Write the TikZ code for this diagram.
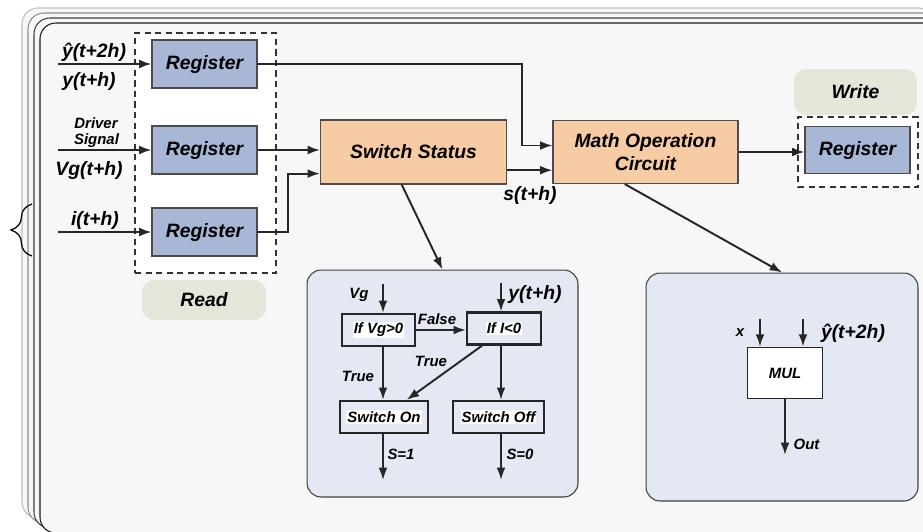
\documentclass[tikz,border=0pt]{standalone}
\usepackage{fontspec}
\setmainfont{Liberation Sans}
\usetikzlibrary{arrows.meta,positioning,decorations.pathreplacing}
\definecolor{regblue}{HTML}{A7B7D5}
\definecolor{orangebox}{HTML}{F7CCA4}
\definecolor{panelbg}{HTML}{E3E8F2}
\definecolor{tagbg}{HTML}{E4E6DA}
\definecolor{framebg}{HTML}{F7F7F7}
\newcommand{\wbg}[1]{{\setlength{\fboxsep}{0.6pt}\colorbox{white}{#1}}}
\tikzset{%
	>={Latex[width=5pt,length=7pt]},
	% Specifications for style of nodes:
	base/.style = {rectangle, draw=black!70, line width=0.6pt,
		text centered, font=\fontsize{11}{13.5}\selectfont\bfseries\itshape},
	register/.style = {base, fill=regblue, minimum width=2.1cm, minimum height=0.96cm},
	status/.style = {base, fill=orangebox, minimum width=3.72cm, minimum height=1.28cm},
	panel/.style = {rectangle, rounded corners=8pt, draw=black!75, line width=0.6pt, fill=panelbg},
	flow/.style = {rectangle, draw=black!85, line width=1.3pt, fill=panelbg,
		minimum height=0.64cm, inner sep=1pt, font=\fontsize{8.5}{10}\selectfont\bfseries\itshape},
	tag/.style = {rectangle, rounded corners=7pt, fill=tagbg,
		font=\fontsize{11}{13.5}\selectfont\bfseries\itshape},
	dbox/.style = {rectangle, draw=black!80, fill=white, dash pattern=on 3.5pt off 2.5pt, line width=0.6pt},
	lab/.style = {inner sep=0pt, font=\fontsize{11}{13}\selectfont\bfseries\itshape},
	slab/.style = {inner sep=0pt, font=\fontsize{8.5}{10}\selectfont\bfseries\itshape},
	wire/.style = {->, line width=1.1pt, draw=black!85}
}
\begin{document}
\begin{tikzpicture}[x=0.02cm, y=-0.02cm, align=center]
	\useasboundingbox (0,0) rectangle (923,531);
	\clip (0,0) rectangle (923,531);
	% stacked frames
	\foreach \k/\c in {0/black!25,1/black!45,2/black!75,3/black!90}
		\draw[draw=\c, fill=framebg, rounded corners=9pt, line width=0.6pt]
			(22+6*\k,8+5*\k) rectangle ++(912,510);
	\draw[decorate, decoration={brace, amplitude=12pt}, line width=0.7pt] (32,256) -- (32,204);

	% Specification of nodes (position, etc.)
	\node (rdbox)  [dbox, minimum width=2.82cm, minimum height=4.8cm] at (205.5,153) {};
	\node (reg1)   [register] at (204.5,64)  {Register};
	\node (reg2)   [register] at (204.5,150) {Register};
	\node (reg3)   [register] at (204.5,232) {Register};
	\node (rtag)   [tag, minimum width=2.48cm, minimum height=0.8cm] at (204,300) {Read};
	\node (sw)     [status] at (413.5,152) {Switch Status};
	\node (math)   [status, minimum width=3.7cm, minimum height=1.26cm] at (645.5,152) {Math Operation\\Circuit};
	\node (wdbox)  [dbox, minimum width=2.4cm, minimum height=1.4cm] at (858,152) {};
	\node (regw)   [register, minimum height=0.94cm] at (857.5,150) {Register};
	\node (wtag)   [tag, minimum width=2.46cm, minimum height=0.92cm] at (855.5,92) {Write};
	\node (pflow)  [panel, minimum width=5.42cm, minimum height=4.54cm] at (442.5,383.5) {};
	\node (pmul)   [panel, minimum width=5.44cm, minimum height=4.56cm] at (782,387) {};
	\node (ifvg)   [flow, minimum width=1.46cm] at (378.5,330) {\wbg{If Vg>0}};
	\node (ifi)    [flow, minimum width=1.48cm] at (504,328.5) {\wbg{If I<0}};
	\node (swon)   [flow, minimum width=1.76cm] at (384,417) {\wbg{Switch On}};
	\node (swoff)  [flow, minimum width=1.82cm] at (498.5,417) {\wbg{Switch Off}};
	\node (mul)    [flow, fill=white, line width=1pt, minimum width=1.5cm, minimum height=1.02cm] at (785,373) {MUL};

	\coordinate (in1) at (58,64);
	\coordinate (in2) at (58,150);
	\coordinate (in3) at (58,232);
	\coordinate (j1) at (522,0);
	\coordinate (j2) at (288,0);
	\coordinate (vgin) at (383,284);
	\coordinate (yin) at (501,283);
	\coordinate (s1) at (383,480);
	\coordinate (s0) at (501,480);
	\coordinate (xin) at (760,319);
	\coordinate (yhin) at (803,319);
	\coordinate (mout) at (785,455);

	% labels
	\node (lyhat) [lab] at (94,52) {ŷ(t+2h)};
	\node (ly)    [lab] at (89,82) {y(t+h)};
	\node (ldrv)  [slab] at (96,123) {Driver};
	\node (lsig)  [slab] at (96.5,141) {Signal};
	\node (lvg)   [lab] at (89,170) {Vg(t+h)};
	\node (li)    [lab] at (95,220) {i(t+h)};
	\node (ls)    [lab] at (530,195) {s(t+h)};
	\node (fvg)   [slab] at (359,295) {Vg};
	\node (fy)    [lab] at (535,294) {y(t+h)};
	\node (ffalse) [slab] at (437,319) {False};
	\node (ftrue1) [slab] at (358,376) {True};
	\node (ftrue2) [slab] at (431,361) {True};
	\node (fs1)   [slab] at (401,454) {S=1};
	\node (fs0)   [slab] at (520,454) {S=0};
	\node (mx)    [slab] at (740,333) {x};
	\node (myhat) [lab] at (853,333) {ŷ(t+2h)};
	\node (mo)    [slab] at (806.5,444) {Out};

	\draw[wire] (in1) -- (reg1.west);
	\draw[wire] (in2) -- (reg2.west);
	\draw[wire] (in3) -- (reg3.west);
	\draw[wire] (reg1.east) -| (j1 |- math.176) -- (math.176);
	\draw[wire] (reg2.east) -- (reg2.east -| sw.west);
	\draw[wire] (reg3.east) -| (j2 |- sw.193) -- (sw.193);
	\draw[wire] (sw.-11) -- (sw.-11 -| math.west);
	\draw[wire] (math.east) -- (math.east -| regw.west);
	\draw[wire] (sw.250) -- (pflow.north);
	\draw[wire] (math.237) -- (pmul.north);

	\draw[wire] (vgin) -- (vgin |- ifvg.north);
	\draw[wire] (yin) -- (yin |- ifi.north);
	\draw[wire] (ifvg.east) -- (ifvg.east -| ifi.west);
	\draw[wire] (ifvg.south -| vgin) -- (vgin |- swon.north);
	\draw[wire] (ifi.218) -- (swon.37);
	\draw[wire] (yin |- ifi.south) -- (yin |- swoff.north);
	\draw[wire] (vgin |- swon.south) -- (s1);
	\draw[wire] (yin |- swoff.south) -- (s0);

	\draw[wire] (xin) -- (xin |- mul.north);
	\draw[wire] (yhin) -- (yhin |- mul.north);
	\draw[wire] (mul.south) -- (mout);
\end{tikzpicture}
\end{document}
